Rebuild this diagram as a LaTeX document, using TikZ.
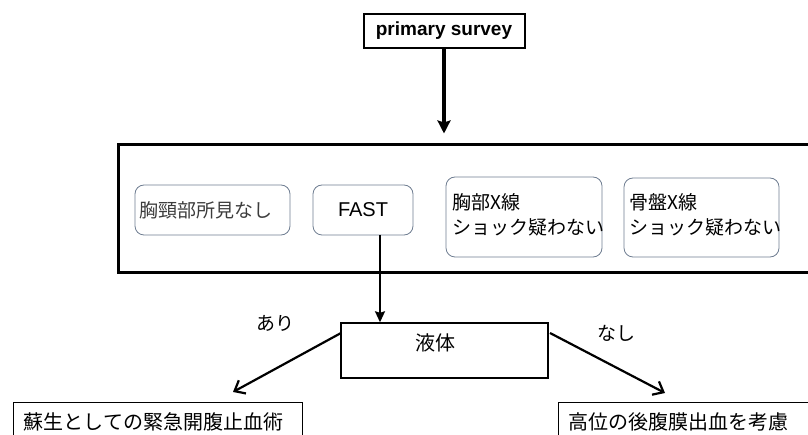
\documentclass[tikz,border=0pt]{standalone}
\usepackage{fontspec}
\setmainfont{Liberation Sans}
\newfontfamily\jp{Noto Sans CJK JP}
\usetikzlibrary{arrows.meta}
\definecolor{boxgray}{RGB}{110,125,145}
\definecolor{txtgray}{RGB}{60,60,60}
\begin{document}
\begin{tikzpicture}[x=1pt,y=-1pt,
  topbox/.style={draw=black,line width=2pt,inner sep=0pt,minimum width=161pt,minimum height=34pt,font=\fontsize{19}{22}\selectfont\bfseries},
  bigbox/.style={draw=black,line width=3pt,inner sep=0pt},
  rbox/.style={draw=boxgray,line width=0.8pt,rounded corners=9pt,inner sep=0pt},
  plainbox/.style={draw=black,line width=1.4pt,inner sep=0pt},
  bottombox/.style={draw=black,line width=1.4pt,inner xsep=10pt,inner ysep=10pt,anchor=north west,align=left,text height=17pt,text depth=3pt,font=\jp\fontsize{20}{24}\selectfont},
  jptext/.style={font=\jp\fontsize{19}{25}\selectfont,align=left,inner sep=0pt},
  lbl/.style={font=\jp\fontsize{19}{24}\selectfont,inner sep=0pt},
  mainarrow/.style={line width=3.2pt,-{Stealth[length=13pt,width=13pt,inset=2pt]}},
  thinarrow/.style={line width=1.8pt,-{Stealth[length=11pt,width=10pt,inset=1.5pt]}},
  diagarrow/.style={line width=2.2pt,-{Straight Barb[length=9pt,width=15pt,line width=2.2pt]}}
]
\useasboundingbox (0,0) rectangle (808,435);
\clip (0,0) rectangle (808,435);

% top
\node[topbox] (ps) at (444,31) {primary survey};
\node[bigbox,minimum width=712pt,minimum height=128pt] (big) at (474,209) {};
\draw[mainarrow,shorten >=10pt] (ps.south) -- (ps.south |- big.north);

% inner rounded boxes
\node[rbox,minimum width=155pt,minimum height=50pt] (b1) at (212.5,210) {};
\node[jptext,anchor=west,text=txtgray] (t1) at (139,210) {胸頸部所見なし};
\node[rbox,minimum width=100pt,minimum height=50pt,font=\fontsize{20}{24}\selectfont] (fast) at (363,210) {FAST};
\node[rbox,minimum width=156pt,minimum height=80pt] (b3) at (524,217) {};
\node[jptext,anchor=west] (t3) at (452,215) {胸部X線\\ショック疑わない};
\node[rbox,minimum width=155pt,minimum height=79pt] (b4) at (701.5,217.5) {};
\node[jptext,anchor=west] (t4) at (629,215) {骨盤X線\\ショック疑わない};

% liquid box
\node[plainbox,minimum width=207pt,minimum height=55pt] (liq) at (444.5,350.5) {};
\node[lbl,font=\jp\fontsize{20}{24}\selectfont] (liqt) at (435,343) {液体};
\coordinate (fx) at (380,235);
\draw[thinarrow] (fx) -- (fx |- liq.north);

% bottom boxes
\node[bottombox,text width=269pt] (left) at (13,402) {蘇生としての緊急開腹止血術};
\node[bottombox,text width=300pt] (right) at (558,402) {高位の後腹膜出血を考慮};

% branch arrows
\coordinate (ls) at (341,333);
\coordinate (le) at (233,392);
\coordinate (rs) at (550,333);
\coordinate (re) at (665,393);
\draw[diagarrow] (ls) -- (le);
\draw[diagarrow] (rs) -- (re);
\node[lbl] (ari) at (275,323) {あり};
\node[lbl] (nashi) at (616,333) {なし};
\end{tikzpicture}
\end{document}
